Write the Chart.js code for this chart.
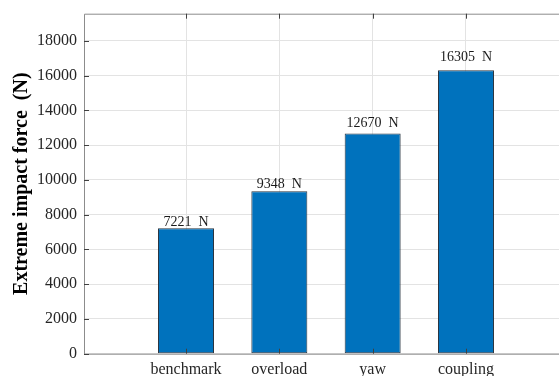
<!DOCTYPE html>
<html>
<head>
<meta charset="utf-8">
<script src="https://cdn.jsdelivr.net/npm/chart.js@4/dist/chart.umd.min.js"></script>
<style>
  html, body { margin: 0; padding: 0; background: #ffffff; overflow: hidden; }
  #wrap { position: relative; width: 580px; height: 376px; }
</style>
</head>
<body>
<div id="wrap"><canvas id="chart" width="580" height="376"></canvas></div>
<script>
// Scenario names and the peak impact force for each (N)
const categories = ['benchmark', 'overload', 'yaw', 'coupling'];
const forces = [7221, 9348, 12670, 16305];
const yTicks = [0, 2000, 4000, 6000, 8000, 10000, 12000, 14000, 16000, 18000];
const yMax = 19566;

const SERIF = '"Liberation Serif", "Times New Roman", serif';
const AXIS_COLOR = '#262626';
// Value labels sit slightly above each bar, proportionally to its height
const LABEL_LIFT = 1.045;

const points = categories.map((c, i) => ({ x: i + 1, y: forces[i] }));

// Axis box with inward tick marks, drawn over the plot
const axisBox = {
  id: 'axisBox',
  afterDatasetsDraw(chart) {
    const { ctx, chartArea: a, scales: { x, y } } = chart;
    ctx.save();
    ctx.strokeStyle = '#8c8c8c';
    ctx.lineWidth = 1;
    ctx.beginPath();
    ctx.moveTo(a.left + 0.5, a.bottom + 0.5);
    ctx.lineTo(a.left + 0.5, a.top + 0.5);
    ctx.lineTo(a.right, a.top + 0.5);
    ctx.moveTo(a.left + 0.5, a.bottom + 0.5);
    ctx.lineTo(a.right, a.bottom + 0.5);
    ctx.stroke();
    ctx.strokeStyle = '#404040';
    ctx.beginPath();
    categories.forEach((c, i) => {
      const px = Math.round(x.getPixelForValue(i + 1)) + 0.5;
      ctx.moveTo(px, a.bottom);
      ctx.lineTo(px, a.bottom - 5);
      ctx.moveTo(px, a.top);
      ctx.lineTo(px, a.top + 5);
    });
    yTicks.forEach(v => {
      const py = Math.round(y.getPixelForValue(v)) + 0.5;
      ctx.moveTo(a.left, py);
      ctx.lineTo(a.left + 5, py);
    });
    ctx.stroke();
    ctx.restore();
  }
};

// Value labels above each bar
const valueLabels = {
  id: 'valueLabels',
  afterDatasetsDraw(chart) {
    const { ctx, scales: { y } } = chart;
    const meta = chart.getDatasetMeta(0);
    ctx.save();
    ctx.font = '14px ' + SERIF;
    ctx.fillStyle = '#1a1a1a';
    ctx.textAlign = 'center';
    ctx.textBaseline = 'middle';
    meta.data.forEach((bar, i) => {
      ctx.fillText(forces[i] + '\u2002N', bar.x, y.getPixelForValue(forces[i] * LABEL_LIFT));
    });
    ctx.restore();
  }
};

new Chart(document.getElementById('chart'), {
  type: 'bar',
  data: {
    datasets: [{
      data: points,
      backgroundColor: '#0072BD',
      borderColor: '#2b3540',
      borderWidth: 1,
      borderSkipped: false,
      barPercentage: 0.6,
      categoryPercentage: 1.0
    }]
  },
  options: {
    responsive: false,
    animation: false,
    layout: { padding: { left: 0, right: 12, top: 13.7, bottom: 0 } },
    plugins: { legend: { display: false }, tooltip: { enabled: false } },
    scales: {
      x: {
        type: 'linear',
        offset: false,
        min: -0.093,
        max: 5.093,
        afterBuildTicks(scale) {
          scale.ticks = categories.map((c, i) => ({ value: i + 1 }));
        },
        afterFit(scale) {
          scale.height = 376 - 353.7;
          scale.paddingLeft = 0;
          scale.paddingRight = 0;
        },
        grid: { color: '#e3e3e3', drawTicks: false, drawOnChartArea: true, offset: false },
        border: { display: false },
        ticks: {
          autoSkip: false,
          maxRotation: 0,
          padding: 6,
          color: AXIS_COLOR,
          font: { family: SERIF, size: 16 },
          callback: (v) => categories[v - 1] ?? ''
        }
      },
      y: {
        min: 0,
        max: yMax,
        afterBuildTicks(scale) {
          scale.ticks = yTicks.map(v => ({ value: v }));
        },
        afterFit(scale) {
          scale.width = 84;
          scale.paddingTop = 0;
          scale.paddingBottom = 0;
        },
        grid: { color: '#e3e3e3', drawTicks: false },
        border: { display: false },
        ticks: {
          padding: 7,
          color: AXIS_COLOR,
          font: { family: SERIF, size: 16 },
          callback: (v) => String(v)
        },
        title: {
          display: true,
          text: 'Extreme impact force  (N)',
          color: '#000000',
          font: { family: SERIF, size: 20, weight: 'bold' },
          padding: { top: 10, bottom: 0 }
        }
      }
    }
  },
  plugins: [axisBox, valueLabels]
});
</script>
</body>
</html>
